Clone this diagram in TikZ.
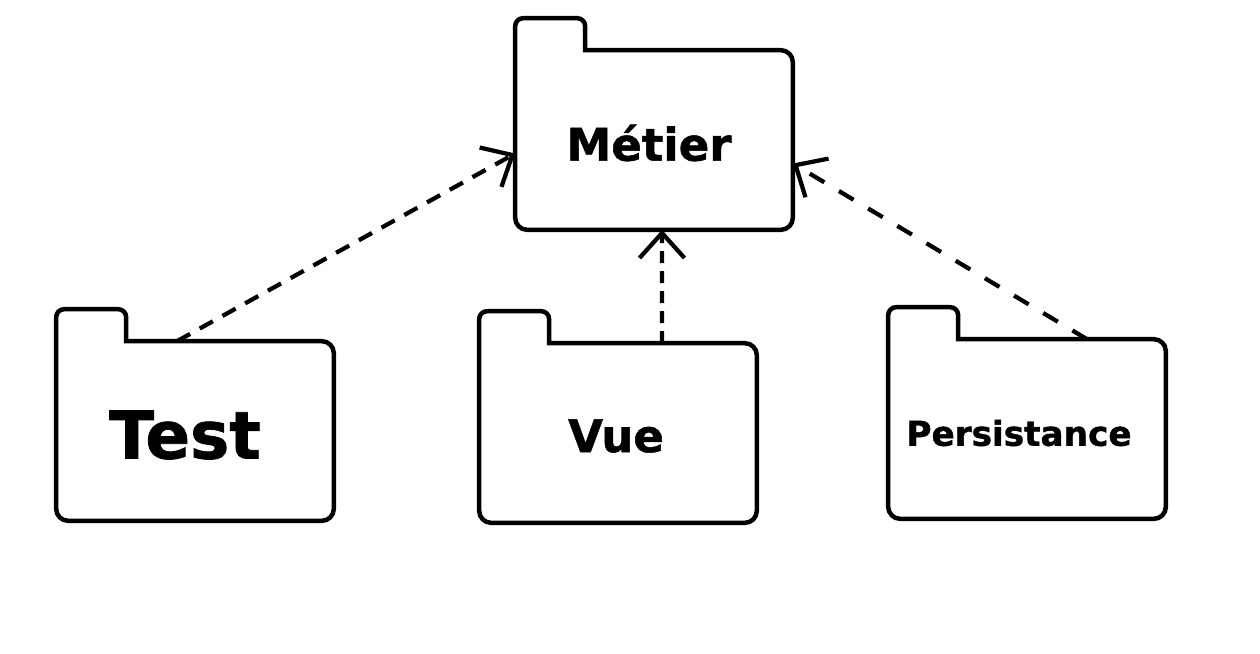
\documentclass[tikz,border=0pt]{standalone}
\usepackage{fontspec}
\setmainfont{DejaVu Sans}
\newfontfamily\heavyfont[FakeBold=1.2]{DejaVu Sans Bold}
\usepackage{tikz}
\usetikzlibrary{arrows.meta, positioning}

% folder outline round a package node
\newcommand{\folder}[1]{%
  \draw[outline, rounded corners=0.24cm] ([xshift=1.4cm]#1.north west) -- (#1.north east) -- (#1.south east) -- (#1.south west)
    [rounded corners=0.16cm] -- ([yshift=0.64cm]#1.north west) -- ([xshift=1.4cm,yshift=0.64cm]#1.north west) -- ([xshift=1.4cm]#1.north west);}

\begin{document}
\begin{tikzpicture}[
    x=0.02cm, y=-0.02cm,
    package/.style={rectangle, inner sep=0pt, minimum width=5.54cm, minimum height=3.58cm},
    pkgname/.style={inner sep=0pt, font=\heavyfont},
    outline/.style={line width=0.09cm, line cap=rect},
    dep/.style={draw, line width=0.085cm, -{Straight Barb[length=0.5cm, width=0.9cm]}}
]
\useasboundingbox (0,0) rectangle (1260,653);

% Nodes
\node[package] (metier) at (654,140) {};
\node[package] (test) at (195,431) {};
\node[package] (vue) at (618,433) {};
\node[package] (persist) at (1027,429) {};

\node[pkgname] (metier-name) at ([shift={(-5,3)}]metier.center) {\fontsize{25.6}{30}\selectfont Métier};
\node[pkgname] (test-name) at ([shift={(-10,4)}]test.center) {\fontsize{37.5}{42}\selectfont Test};
\node[pkgname] (vue-name) at ([shift={(-2,3)}]vue.center) {\fontsize{25.6}{30}\selectfont Vue};
\node[pkgname] (persist-name) at ([shift={(-8,4)}]persist.center) {\fontsize{19.5}{24}\selectfont Persistance};

\folder{metier}
\folder{test}
\folder{vue}
\folder{persist}

% Paths
\path[dep, dash pattern=on 0.3cm off 0.22cm] ([xshift=-0.36cm]test.north) -- ([yshift=-0.27cm]metier.west);
\path[dep, dash pattern=on 0.24cm off 0.16cm] ([xshift=0.88cm]vue.north) -- ([xshift=0.16cm]metier.south);
\path[dep, dash pattern=on 0.34cm off 0.34cm] ([xshift=1.2cm]persist.north) -- ([yshift=-0.47cm]metier.east);

\end{tikzpicture}
\end{document}
